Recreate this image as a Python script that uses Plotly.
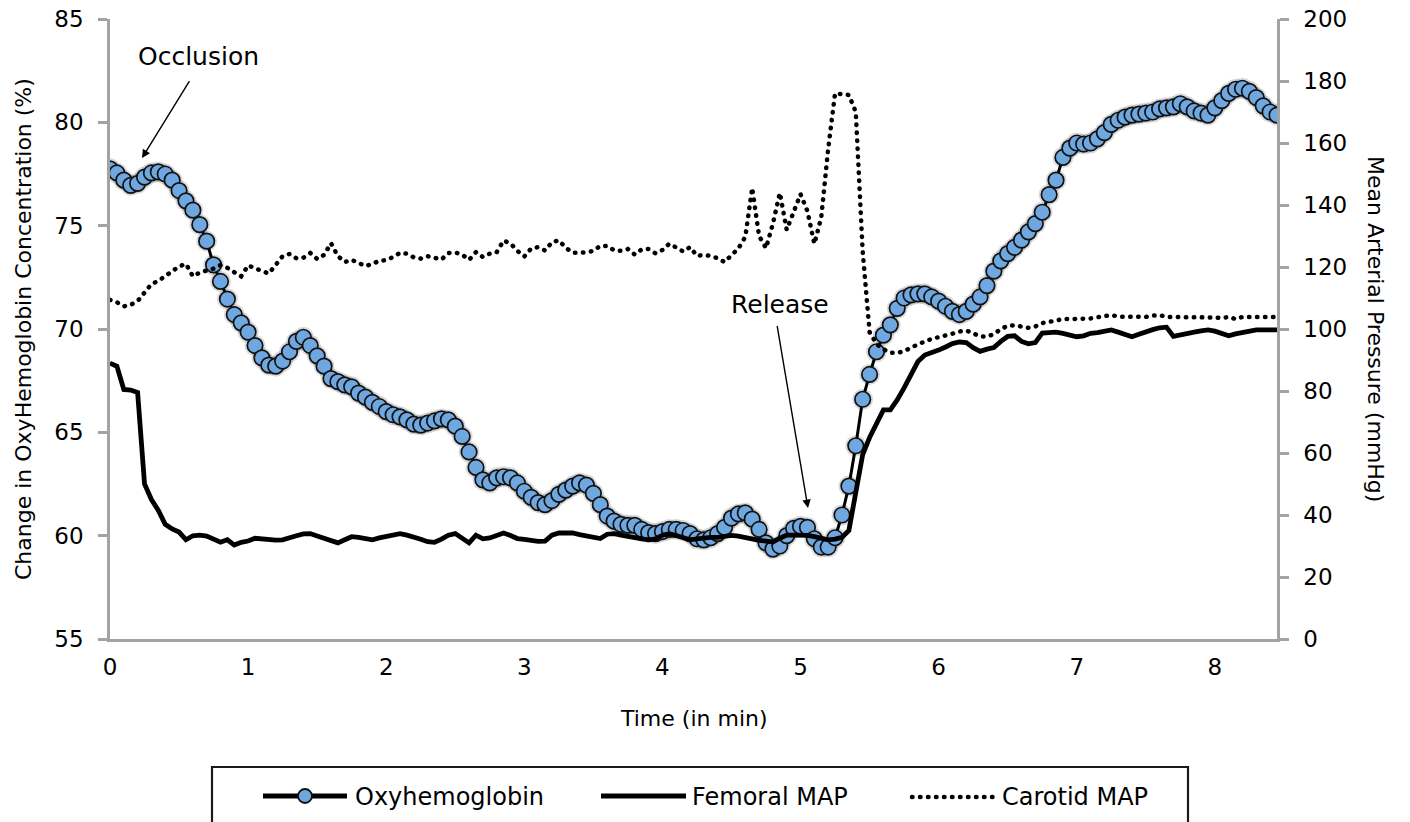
import plotly.graph_objects as go

# Sampling times (min), one reading every 3 s
TIME_MIN = [
    0.00, 0.05, 0.10, 0.15, 0.20, 0.25, 0.30, 0.35, 0.40, 0.45,
    0.50, 0.55, 0.60, 0.65, 0.70, 0.75, 0.80, 0.85, 0.90, 0.95,
    1.00, 1.05, 1.10, 1.15, 1.20, 1.25, 1.30, 1.35, 1.40, 1.45,
    1.50, 1.55, 1.60, 1.65, 1.70, 1.75, 1.80, 1.85, 1.90, 1.95,
    2.00, 2.05, 2.10, 2.15, 2.20, 2.25, 2.30, 2.35, 2.40, 2.45,
    2.50, 2.55, 2.60, 2.65, 2.70, 2.75, 2.80, 2.85, 2.90, 2.95,
    3.00, 3.05, 3.10, 3.15, 3.20, 3.25, 3.30, 3.35, 3.40, 3.45,
    3.50, 3.55, 3.60, 3.65, 3.70, 3.75, 3.80, 3.85, 3.90, 3.95,
    4.00, 4.05, 4.10, 4.15, 4.20, 4.25, 4.30, 4.35, 4.40, 4.45,
    4.50, 4.55, 4.60, 4.65, 4.70, 4.75, 4.80, 4.85, 4.90, 4.95,
    5.00, 5.05, 5.10, 5.15, 5.20, 5.25, 5.30, 5.35, 5.40, 5.45,
    5.50, 5.55, 5.60, 5.65, 5.70, 5.75, 5.80, 5.85, 5.90, 5.95,
    6.00, 6.05, 6.10, 6.15, 6.20, 6.25, 6.30, 6.35, 6.40, 6.45,
    6.50, 6.55, 6.60, 6.65, 6.70, 6.75, 6.80, 6.85, 6.90, 6.95,
    7.00, 7.05, 7.10, 7.15, 7.20, 7.25, 7.30, 7.35, 7.40, 7.45,
    7.50, 7.55, 7.60, 7.65, 7.70, 7.75, 7.80, 7.85, 7.90, 7.95,
    8.00, 8.05, 8.10, 8.15, 8.20, 8.25, 8.30, 8.35, 8.40, 8.45,
]

# Change in oxyhemoglobin concentration (%)
OXYHEMOGLOBIN = [
    77.75, 77.55, 77.2, 76.95, 77.05, 77.35, 77.55, 77.6, 77.5, 77.2,
    76.7, 76.2, 75.75, 75.05, 74.25, 73.1, 72.3, 71.45, 70.7, 70.3,
    69.85, 69.2, 68.6, 68.25, 68.2, 68.45, 68.9, 69.4, 69.6, 69.2,
    68.7, 68.2, 67.6, 67.45, 67.3, 67.2, 66.9, 66.7, 66.45, 66.25,
    66.0, 65.85, 65.75, 65.6, 65.4, 65.35, 65.45, 65.55, 65.65, 65.6,
    65.3, 64.8, 64.05, 63.3, 62.7, 62.55, 62.8, 62.85, 62.8, 62.55,
    62.15, 61.85, 61.6, 61.5, 61.7, 62.0, 62.2, 62.4, 62.55, 62.45,
    62.05, 61.5, 60.95, 60.7, 60.55, 60.5, 60.5, 60.3, 60.15, 60.1,
    60.2, 60.3, 60.3, 60.25, 60.1, 59.85, 59.8, 59.9, 60.1, 60.4,
    60.85, 61.05, 61.1, 60.8, 60.3, 59.65, 59.35, 59.5, 60.0, 60.35,
    60.45, 60.4, 59.85, 59.45, 59.45, 59.9, 61.0, 62.4, 64.35, 66.6,
    67.8, 68.9, 69.7, 70.2, 71.0, 71.5, 71.65, 71.7, 71.7, 71.55,
    71.35, 71.1, 70.85, 70.7, 70.85, 71.2, 71.55, 72.1, 72.8, 73.3,
    73.65, 73.95, 74.3, 74.7, 75.1, 75.65, 76.5, 77.2, 78.3, 78.75,
    79.0, 78.95, 79.0, 79.2, 79.5, 79.9, 80.1, 80.25, 80.35, 80.4,
    80.45, 80.5, 80.65, 80.7, 80.75, 80.9, 80.75, 80.55, 80.45, 80.35,
    80.7, 81.05, 81.4, 81.6, 81.65, 81.5, 81.2, 80.8, 80.5, 80.35,
]

# Femoral mean arterial pressure (mmHg)
FEMORAL_MAP = [
    89.0, 88.0, 80.5, 80.3, 79.5, 50.0, 45.0, 41.5, 37.0, 35.5,
    34.5, 32.0, 33.3, 33.5, 33.2, 32.3, 31.2, 32.0, 30.3, 31.2,
    31.6, 32.5, 32.3, 31.9, 31.9, 32.0, 32.8, 33.3, 33.9, 34.0,
    33.2, 32.4, 31.6, 31.0, 32.0, 33.0, 32.8, 32.2, 32.0, 32.6,
    33.2, 33.4, 34.0, 33.5, 33.0, 32.2, 31.4, 31.2, 32.2, 33.5,
    34.0, 32.5, 31.0, 33.5, 32.3, 32.6, 33.4, 34.2, 33.4, 32.4,
    32.1, 31.8, 31.5, 31.6, 33.5, 34.2, 34.2, 34.2, 33.7, 33.2,
    32.8, 32.4, 33.8, 34.0, 33.5, 33.0, 32.6, 32.3, 32.0, 32.3,
    33.5, 34.0, 33.4, 32.6, 32.0, 32.3, 32.6, 32.8, 32.8, 33.0,
    33.4, 33.2, 32.6, 32.0, 31.8, 31.6, 31.3, 32.5, 33.5, 33.5,
    33.5, 33.4, 33.0, 32.6, 32.0, 32.2, 32.8, 35.0, 48.0, 59.5,
    65.0, 69.5, 73.9, 73.9, 77.1, 81.0, 85.5, 89.5, 91.6, 92.2,
    93.2, 94.2, 95.3, 95.8, 95.6, 94.0, 92.8, 93.5, 94.0, 96.0,
    97.6, 97.8, 96.0, 95.2, 95.6, 98.7, 98.9, 99.0, 98.6, 98.0,
    97.5, 97.8, 98.6, 98.8, 99.3, 99.7, 99.0, 98.2, 97.5, 98.3,
    99.2, 99.8, 100.4, 100.6, 97.6, 98.2, 98.6, 99.0, 99.4, 99.7,
    99.3, 98.6, 97.8, 98.4, 98.9, 99.4, 99.7, 99.7, 99.7, 99.7,
]

# Carotid mean arterial pressure (mmHg)
CAROTID_MAP = [
    109.4, 108.6, 107.3, 107.8, 109.0, 111.5, 114.5, 115.5, 117.0, 118.6,
    120.2, 121.0, 117.0, 118.2, 118.7, 119.5, 120.6, 119.7, 118.3, 117.0,
    120.5, 119.5, 118.7, 117.9, 120.5, 123.5, 124.2, 122.8, 123.0, 124.5,
    122.6, 123.9, 127.7, 123.5, 121.6, 122.3, 121.3, 120.3, 121.0, 122.0,
    122.2, 123.2, 124.6, 124.3, 123.1, 122.7, 123.5, 122.8, 122.4, 124.5,
    124.7, 124.0, 122.3, 124.8, 123.2, 124.3, 124.8, 128.5, 127.6, 125.2,
    123.4, 126.0, 126.4, 125.3, 128.0, 128.6, 126.2, 124.6, 124.5, 124.7,
    125.2, 126.8, 126.8, 125.4, 125.2, 125.8, 124.0, 125.7, 125.8, 124.4,
    125.5, 127.5, 126.3, 125.0, 126.4, 123.6, 123.9, 123.6, 122.8, 121.6,
    123.8, 126.0, 129.7, 145.5, 130.0, 126.1, 134.0, 143.9, 132.0, 138.0,
    143.5, 138.0, 127.5, 136.0, 158.0, 176.0, 175.8, 175.5, 170.0, 125.0,
    99.0, 95.2, 93.5, 92.3, 92.3, 92.8, 94.0, 95.2, 96.0, 96.8,
    97.3, 98.0, 98.5, 99.2, 99.5, 98.6, 97.6, 97.6, 98.3, 100.0,
    101.0, 101.2, 100.7, 100.4, 100.8, 101.9, 102.3, 102.8, 103.2, 103.2,
    103.2, 103.2, 103.4, 103.8, 104.3, 104.5, 104.0, 103.9, 103.9, 103.9,
    103.9, 104.3, 104.5, 103.9, 103.9, 103.9, 103.9, 103.9, 103.9, 103.9,
    103.7, 103.5, 103.9, 103.2, 103.9, 103.9, 103.9, 103.9, 103.9, 103.9,
]

X_TICKS = [0, 1, 2, 3, 4, 5, 6, 7, 8]
LEFT_TICKS = [55, 60, 65, 70, 75, 80, 85]
RIGHT_TICKS = [0, 20, 40, 60, 80, 100, 120, 140, 160, 180, 200]

SERIES_NAMES = ["Oxyhemoglobin", "Femoral MAP", "Carotid MAP"]

# ---- layout geometry (pixels) ----
W, H = 1410, 822
PL, PR, PT, PB = 110, 1277, 19, 639
FONT = "DejaVu Sans"
AXIS_GREY = "#a3a3a3"
MARKER_FILL = "#6fa7e0"
DOT_DASH = "0.5px,7.5px"


def fx(px):
    return (px - PL) / (PR - PL)


def fy(py):
    return (PB - py) / (PB - PT)


fig = go.Figure()

# soft glow under the oxyhemoglobin markers
fig.add_trace(go.Scatter(
    x=TIME_MIN, y=OXYHEMOGLOBIN, mode="markers",
    marker=dict(size=21, color="rgba(0,0,0,0.14)", line=dict(width=0)),
    hoverinfo="skip", showlegend=False, yaxis="y",
))
fig.add_trace(go.Scatter(
    x=TIME_MIN, y=OXYHEMOGLOBIN, mode="lines+markers", name=SERIES_NAMES[0],
    line=dict(color="black", width=3),
    marker=dict(size=15.5, color=MARKER_FILL, line=dict(color="#111111", width=1.7)),
    showlegend=False, yaxis="y",
))
fig.add_trace(go.Scatter(
    x=TIME_MIN, y=FEMORAL_MAP, mode="lines", name=SERIES_NAMES[1],
    line=dict(color="black", width=4.8),
    showlegend=False, yaxis="y2",
))
fig.add_trace(go.Scatter(
    x=TIME_MIN, y=CAROTID_MAP, mode="lines", name=SERIES_NAMES[2],
    line=dict(color="black", width=4.5, dash=DOT_DASH),
    showlegend=False, yaxis="y2",
))

tick_font = dict(family=FONT, size=23, color="black")

fig.update_layout(
    width=W, height=H,
    margin=dict(l=PL, r=W - PR, t=PT, b=H - PB, autoexpand=False),
    paper_bgcolor="white", plot_bgcolor="white",
    showlegend=False,
    xaxis=dict(
        range=[0, 8.45], tickvals=X_TICKS, ticktext=[str(v) for v in X_TICKS],
        showgrid=False, zeroline=False, showline=True, linecolor=AXIS_GREY,
        linewidth=2.5, ticks="", tickfont=tick_font, ticklabelstandoff=6,
    ),
    yaxis=dict(
        range=[55, 85], tickvals=LEFT_TICKS, showgrid=False, zeroline=False,
        showline=True, linecolor=AXIS_GREY, linewidth=2.5,
        ticks="outside", ticklen=9, tickwidth=2.5, tickcolor=AXIS_GREY,
        tickfont=tick_font, ticklabelstandoff=10,
    ),
    yaxis2=dict(
        range=[0, 200], tickvals=RIGHT_TICKS, overlaying="y", side="right",
        showgrid=False, zeroline=False, showline=True, linecolor=AXIS_GREY,
        linewidth=2.5, ticks="outside", ticklen=9, tickwidth=2.5,
        tickcolor=AXIS_GREY, tickfont=tick_font, ticklabelstandoff=10,
    ),
)

title_font = dict(family=FONT, size=22, color="black")
note_font = dict(family=FONT, size=25, color="black")
legend_font = dict(family=FONT, size=24, color="black")

annotations = [
    # axis titles
    dict(text="Time (in min)", xref="paper", yref="paper", x=fx(694), y=fy(718),
         showarrow=False, font=title_font, xanchor="center", yanchor="middle"),
    dict(text="Change in OxyHemoglobin Concentration (%)", xref="paper", yref="paper",
         x=fx(23), y=fy(329), textangle=-90, showarrow=False, font=title_font,
         xanchor="center", yanchor="middle"),
    dict(text="Mean Arterial Pressure (mmHg)", xref="paper", yref="paper",
         x=fx(1376), y=fy(329), textangle=90, showarrow=False, font=title_font,
         xanchor="center", yanchor="middle"),
    # event labels
    dict(text="Occlusion", xref="paper", yref="paper", x=fx(198), y=fy(57),
         showarrow=False, font=note_font, xanchor="center", yanchor="middle"),
    dict(text="", xref="x", yref="y", x=0.232, y=78.27, ax=48, ay=-78,
         showarrow=True, arrowhead=2, arrowsize=1.2, arrowwidth=1.4, arrowcolor="black"),
    dict(text="Release", xref="paper", yref="paper", x=fx(780), y=fy(304),
         showarrow=False, font=note_font, xanchor="center", yanchor="middle"),
    dict(text="", xref="x", yref="y", x=5.054, y=61.34, ax=-31, ay=-183,
         showarrow=True, arrowhead=2, arrowsize=1.2, arrowwidth=1.4, arrowcolor="black"),
]

# legend entries drawn below the axes
LEG_Y = 797
legend_text_x = [353, 690, 1000]
for name, tx in zip(SERIES_NAMES, legend_text_x):
    annotations.append(dict(text=name, xref="paper", yref="paper", x=fx(tx), y=fy(LEG_Y),
                            showarrow=False, font=legend_font,
                            xanchor="left", yanchor="middle"))

shapes = [
    # legend frame
    dict(type="rect", xref="paper", yref="paper", x0=fx(212), x1=fx(1188),
         y0=fy(767), y1=fy(845), line=dict(color="#1a1a1a", width=2.2),
         fillcolor="rgba(0,0,0,0)"),
    # oxyhemoglobin sample
    dict(type="line", xref="paper", yref="paper", x0=fx(263), x1=fx(347),
         y0=fy(LEG_Y - 1), y1=fy(LEG_Y - 1), line=dict(color="black", width=4.8)),
    dict(type="circle", xref="paper", yref="paper", x0=fx(298), x1=fx(312),
         y0=fy(LEG_Y + 6), y1=fy(LEG_Y - 8), fillcolor=MARKER_FILL,
         line=dict(color="#111111", width=1.8)),
    # femoral sample
    dict(type="line", xref="paper", yref="paper", x0=fx(601), x1=fx(686),
         y0=fy(LEG_Y - 1), y1=fy(LEG_Y - 1), line=dict(color="black", width=4.8)),
    # carotid sample
    dict(type="line", xref="paper", yref="paper", x0=fx(912), x1=fx(994),
         y0=fy(LEG_Y), y1=fy(LEG_Y), line=dict(color="black", width=4.5, dash=DOT_DASH)),
]

fig.update_layout(annotations=annotations, shapes=shapes)

# round line caps turn the short dashes into dots
ROUND_DOTS_JS = """
document.querySelectorAll('path').forEach(function (p) {
  var d = p.style.strokeDasharray;
  if (d && d !== 'none') { p.style.strokeLinecap = 'round'; }
});
"""

fig.write_html("out.html", post_script=ROUND_DOTS_JS)
